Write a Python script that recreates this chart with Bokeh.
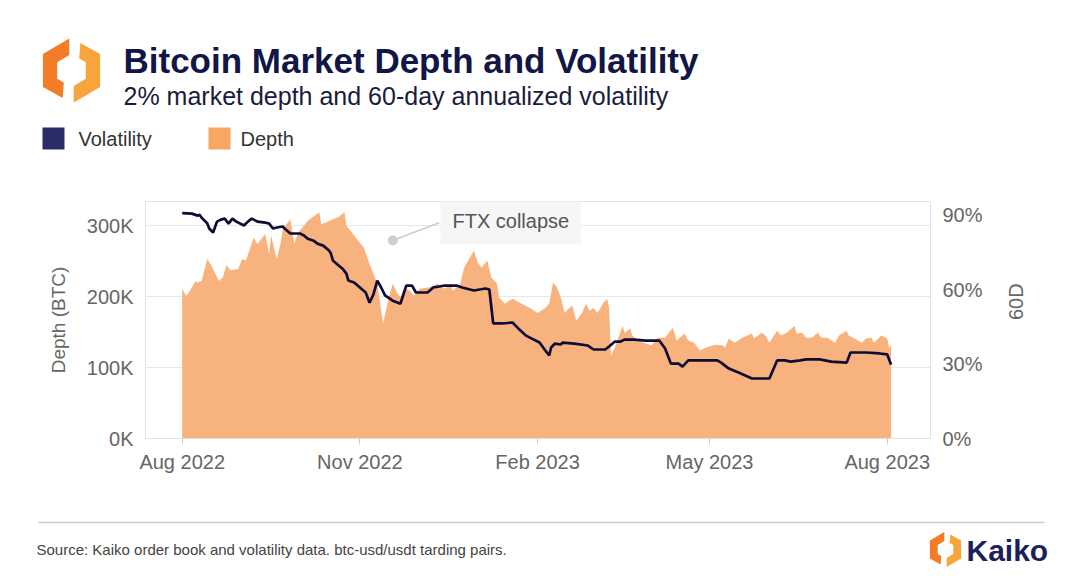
import math
import pandas as pd
from bokeh.plotting import figure
from bokeh.models import (Range1d, LinearAxis, FixedTicker, PrintfTickFormatter,
                          DatetimeTickFormatter, Label)
from bokeh.layouts import column, row
from bokeh.embed import file_html
from bokeh.resources import INLINE

# ---------------- data ----------------
START = "2022-08-01"

depth_days = [0, 2, 3, 7, 8, 10, 13, 15, 19, 21,
              23, 25, 29, 31, 33, 37, 39, 41, 43, 45,
              46, 49, 51, 52, 54, 56, 58, 60, 63, 65,
              71, 72, 75, 78, 81, 84, 85, 87, 91, 94,
              97, 101, 104, 107, 109, 111, 113, 115, 118, 120,
              123, 128, 132, 136, 139, 140, 144, 146, 149, 151,
              153, 155, 158, 160, 163, 164, 167, 171, 175, 180,
              184, 188, 190, 192, 194, 196, 198, 200, 202, 204,
              207, 209, 211, 213, 215, 218, 220, 221, 222, 224,
              228, 229, 232, 233, 236, 239, 243, 246, 250, 254,
              256, 259, 260, 262, 265, 268, 271, 276, 280, 281,
              283, 286, 290, 295, 296, 300, 302, 304, 308, 310,
              313, 317, 318, 321, 323, 326, 329, 331, 334, 338,
              340, 344, 345, 348, 352, 354, 357, 358, 362, 365,
              366, 367]
depth_k = [211, 201, 204, 222, 220, 222, 253, 244, 222, 227,
           244, 237, 239, 253, 251, 283, 274, 281, 288, 260,
           286, 253, 276, 293, 302, 309, 274, 290, 300, 307,
           319, 302, 305, 309, 312, 319, 300, 293, 279, 269,
           246, 218, 162, 199, 218, 206, 199, 213, 208, 201,
           211, 213, 218, 211, 218, 208, 218, 241, 255, 265,
           248, 241, 251, 227, 218, 199, 190, 197, 191, 184,
           177, 184, 190, 220, 213, 199, 177, 183, 187, 166,
           177, 190, 180, 184, 177, 191, 197, 184, 117, 128,
           159, 149, 155, 145, 138, 135, 131, 142, 142, 156,
           138, 145, 148, 138, 135, 124, 128, 132, 131, 128,
           141, 135, 142, 148, 141, 149, 145, 135, 152, 145,
           149, 159, 148, 149, 142, 142, 149, 142, 142, 135,
           145, 152, 145, 141, 135, 141, 142, 135, 145, 141,
           128, 131]

vol_days = [0, 5, 8, 9, 10, 13, 14, 16, 18, 20,
            22, 24, 26, 28, 32, 34, 36, 39, 43, 45,
            47, 49, 52, 53, 56, 59, 61, 63, 65, 68,
            70, 73, 76, 77, 78, 81, 83, 85, 86, 89,
            92, 95, 97, 99, 101, 103, 105, 109, 113, 116,
            119, 121, 127, 130, 136, 142, 145, 151, 157, 159,
            161, 166, 171, 174, 178, 181, 185, 188, 190, 191,
            193, 196, 197, 203, 210, 213, 219, 221, 224, 227,
            229, 234, 240, 247, 250, 253, 257, 259, 262, 268,
            277, 279, 283, 288, 295, 304, 308, 312, 315, 320,
            323, 330, 336, 344, 346, 354, 361, 365, 367]
vol_pct = [90.9, 90.7, 89.9, 90.3, 89.1, 86.7, 84.7, 83.1, 87.5, 88.3,
           88.7, 86.7, 88.7, 87.5, 85.9, 87.5, 88.7, 87.5, 87.1, 86.7,
           84.7, 85.1, 85.5, 84.7, 82.7, 82.7, 82.7, 81.9, 80.6, 79.8,
           78.6, 77.8, 75.8, 74.6, 71.8, 69.8, 68.5, 66.5, 63.7, 62.9,
           60.9, 58.9, 54.8, 58.1, 63.7, 60.9, 57.7, 55.6, 54.4, 61.7,
           61.7, 58.9, 58.9, 60.9, 61.7, 61.7, 60.9, 59.7, 60.5, 60.1,
           46.4, 46.4, 46.8, 44.4, 41.5, 40.3, 38.7, 35.5, 33.5, 36.7,
           38.3, 37.9, 38.7, 38.3, 37.5, 35.9, 35.9, 37.1, 39.1, 39.1,
           39.9, 39.9, 39.5, 39.5, 36.3, 30.2, 30.2, 29.0, 31.5, 31.5,
           31.5, 30.6, 28.2, 26.6, 24.2, 24.2, 31.5, 31.5, 31.0, 31.5,
           31.9, 31.9, 31.0, 30.6, 34.7, 34.7, 34.3, 33.9, 29.8]

x_tick_dates = ["2022-08-01", "2022-11-01", "2023-02-01", "2023-05-01", "2023-08-01"]
depth_ticks = [0, 100, 200, 300]
vol_ticks = [0, 30, 60, 90]

ftx_date = "2022-11-18"
ftx_depth = 279

TITLE = "Bitcoin Market Depth and Volatility"
SUBTITLE = "2% market depth and 60-day annualized volatility"
SOURCE = "Source: Kaiko order book and volatility data. btc-usd/usdt tarding pairs."

# ---------------- style ----------------
FONT = "Liberation Sans"
NAVY = "#0c0c36"
NAVY_LEG = "#2b2e66"
ORANGE = "#f8b27d"
ORANGE_LEG = "#f8a660"
GREY = "#666666"
W = 1075

# logo shape (relative to centre)
LOGO_L = [(-2, -29), (-26, -15), (-26, 15), (-8, 25), (-7, 11), (-13, 7.5), (-13, -7.5), (-2, -14)]
LOGO_R = [(-x, -y) for x, y in LOGO_L]


def blank(h):
    f = figure(width=W, height=h, x_range=Range1d(0, W), y_range=Range1d(h, 0),
               output_backend="svg", toolbar_location=None, min_border=0,
               x_axis_location=None, y_axis_location=None)
    f.grid.visible = False
    f.outline_line_color = None
    return f


def logo(f, cx, cy, s):
    for pts, col in ((LOGO_L, "#f47b28"), (LOGO_R, "#f8a43c")):
        f.patch([cx + s * x for x, _ in pts], [cy + s * y for _, y in pts],
                fill_color=col, line_color=None)


def txt(f, x, y, text, size, color, bold=False, baseline="middle", align="left"):
    f.add_layout(Label(x=x, y=y, text=text, text_font=FONT, text_font_size=f"{size}px",
                       text_color=color, text_font_style="bold" if bold else "normal",
                       text_baseline=baseline, text_align=align))


# ---------------- header ----------------
HH = 168
head = blank(HH)
logo(head, 71, 70, 1.1)
txt(head, 123, 60, TITLE, 35, "#121646", bold=True)
txt(head, 123, 95, SUBTITLE, 25, "#1b1b3c")
head.scatter([53], [138], marker="square", size=22, fill_color=NAVY_LEG, line_color=None)
txt(head, 78, 138, "Volatility", 20, "#333333")
head.scatter([219], [138], marker="square", size=22, fill_color=ORANGE_LEG, line_color=None)
txt(head, 240, 138, "Depth", 20, "#333333")

# ---------------- chart ----------------
t0 = pd.Timestamp(START)
depth_dates = t0 + pd.to_timedelta(depth_days, unit="D")
vol_dates = t0 + pd.to_timedelta(vol_days, unit="D")

CH = 312
p = figure(width=W, height=CH, x_axis_type="datetime",
           x_range=Range1d(t0 - pd.Timedelta(days=19), t0 + pd.Timedelta(days=387.4)),
           y_range=Range1d(0, 334), output_backend="svg", toolbar_location=None,
           min_border_left=145, min_border_right=145, min_border_top=33, min_border_bottom=42)
p.extra_y_ranges = {"vol": Range1d(0, 95.6)}
p.outline_line_color = "#e3e3e3"
p.xgrid.grid_line_color = None
p.ygrid.grid_line_color = "#e8e8e8"

p.varea(x=depth_dates, y1=0, y2=depth_k, fill_color=ORANGE)
p.line(vol_dates, vol_pct, y_range_name="vol", line_color=NAVY, line_width=2.7)

# x axis
xa = p.xaxis[0]
xa.ticker = FixedTicker(ticks=[pd.Timestamp(d).value / 1e6 for d in x_tick_dates])
xa.formatter = DatetimeTickFormatter(days="%b %Y", months="%b %Y", years="%b %Y")
xa.axis_line_color = "#e0e0e0"
xa.major_tick_line_color = "#cccccc"
xa.major_tick_out = 6
xa.major_tick_in = 0
xa.minor_tick_line_color = None
xa.major_label_standoff = 6
xa.major_label_text_font = FONT
xa.major_label_text_font_size = "20px"
xa.major_label_text_color = GREY

# left axis
ya = p.yaxis[0]
ya.ticker = FixedTicker(ticks=depth_ticks)
ya.formatter = PrintfTickFormatter(format="%dK")
ya.axis_line_color = None
ya.major_tick_line_color = None
ya.minor_tick_line_color = None
ya.major_label_standoff = 6
ya.major_label_text_font = FONT
ya.major_label_text_font_size = "20px"
ya.major_label_text_color = GREY
ya.axis_label = "Depth (BTC)"
ya.axis_label_text_font = FONT
ya.axis_label_text_font_size = "19px"
ya.axis_label_text_font_style = "normal"
ya.axis_label_text_color = GREY
ya.axis_label_standoff = 15

# right axis
ra = LinearAxis(y_range_name="vol", ticker=FixedTicker(ticks=vol_ticks),
                formatter=PrintfTickFormatter(format="%d%%"))
ra.axis_line_color = None
ra.major_tick_line_color = None
ra.minor_tick_line_color = None
ra.major_label_standoff = 6
ra.major_label_text_font = FONT
ra.major_label_text_font_size = "20px"
ra.major_label_text_color = GREY
ra.axis_label = "60D"
ra.axis_label_orientation = math.pi / 2
ra.axis_label_text_font = FONT
ra.axis_label_text_font_size = "20px"
ra.axis_label_text_font_style = "normal"
ra.axis_label_text_color = GREY
ra.axis_label_standoff = 30
p.add_layout(ra, "right")

# FTX annotation
ftx_x = pd.Timestamp(ftx_date)
box_x = ftx_x + pd.Timedelta(days=24)
p.line([ftx_x, box_x], [ftx_depth, 304], line_color="#cccccc", line_width=1.5)
p.scatter([ftx_x], [ftx_depth], size=10, fill_color="#cfcfcf", line_color=None)
p.add_layout(Label(x=(box_x + pd.Timedelta(hours=17)).value / 1e6, y=306, text="FTX collapse",
                   text_font=FONT, text_font_size="20px", text_color="#555555",
                   text_baseline="middle", background_fill_color="#f6f6f6",
                   padding=12))

# ---------------- footer ----------------
FH = 104
foot = blank(FH)
foot.line([38, 1044], [42, 42], line_color="#cccccc", line_width=1.5)
txt(foot, 36, 69, SOURCE, 15, "#444444")
logo(foot, 945, 69, 0.6)
txt(foot, 966, 70, "Kaiko", 30, "#1b1f5a", bold=True)

layout = column(row(head), p, row(foot), spacing=0)
open("out.html", "w").write(file_html(layout, INLINE))
